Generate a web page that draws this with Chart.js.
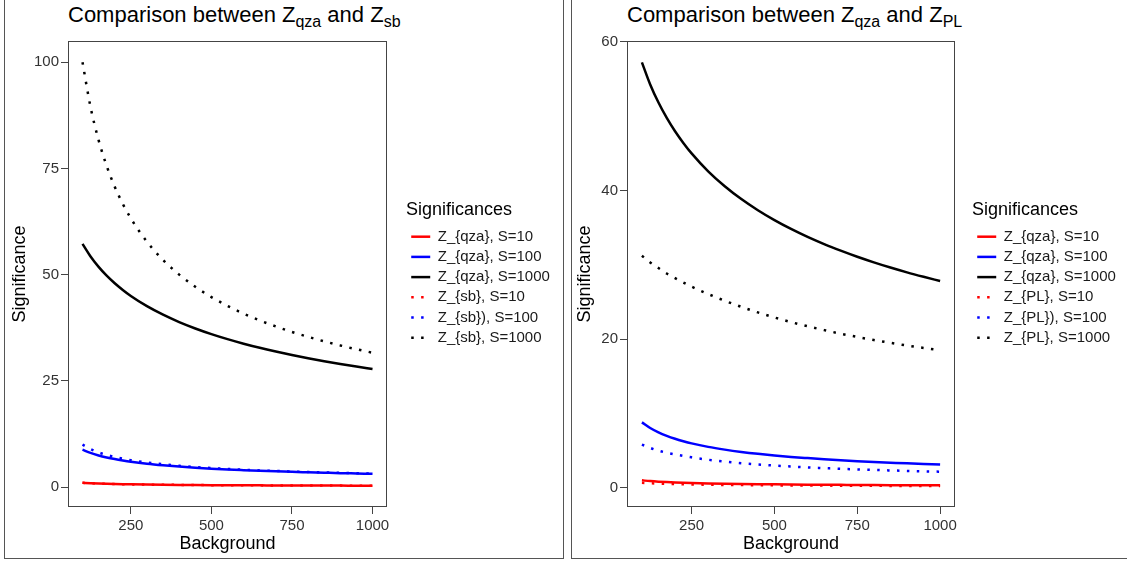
<!DOCTYPE html>
<html><head><meta charset="utf-8">
<script src="https://cdn.jsdelivr.net/npm/chart.js@4.4.0/dist/chart.umd.min.js"></script>
<style>
html,body{margin:0;padding:0;background:#fff;width:1127px;height:563px;overflow:hidden;font-family:"Liberation Sans",Arial,sans-serif;}
.panel{position:absolute;border:1px solid #555;box-sizing:border-box;}
.title{position:absolute;font-size:22px;line-height:1;color:#000;white-space:nowrap;}
.title sub{font-size:16px;vertical-align:-5px;line-height:0}
canvas{position:absolute}
</style></head><body>
<div class="panel" style="left:4px;top:-5px;width:560px;height:564px"></div>
<div class="panel" style="left:571px;top:-5px;width:600px;height:564px"></div>
<div class="title" style="left:68px;top:4px">Comparison between Z<sub>qza</sub> and Z<sub>sb</sub></div>
<div class="title" style="left:627px;top:4px">Comparison between Z<sub>qza</sub> and Z<sub>PL</sub></div>
<canvas id="c1" width="557" height="557" style="left:5px;top:0"></canvas>
<canvas id="c2" width="555" height="557" style="left:572px;top:0"></canvas>
<script>
const background = [100,125,150,175,200,225,250,300,350,400,450,500,550,600,650,700,750,800,850,900,950,1000];
const zqzaS10   = [0.984,0.883,0.807,0.749,0.701,0.662,0.628,0.574,0.532,0.498,0.470,0.446,0.425,0.407,0.391,0.377,0.364,0.353,0.342,0.333,0.324,0.316];
const zqzaS100  = [8.79,8.03,7.44,6.97,6.58,6.25,5.96,5.49,5.12,4.81,4.55,4.33,4.14,3.98,3.83,3.69,3.57,3.47,3.37,3.27,3.19,3.11];
const zqzaS1000 = [57.23,54.26,51.82,49.75,47.96,46.39,44.98,42.57,40.56,38.83,37.33,36.00,34.81,33.74,32.77,31.89,31.07,30.32,29.62,28.97,28.37,27.80];
const zsbS10    = [1.000,0.894,0.816,0.756,0.707,0.667,0.632,0.577,0.535,0.500,0.471,0.447,0.426,0.408,0.392,0.378,0.365,0.354,0.343,0.333,0.324,0.316];
const zsbS100   = [10.00,8.94,8.16,7.56,7.07,6.67,6.32,5.77,5.35,5.00,4.71,4.47,4.26,4.08,3.92,3.78,3.65,3.54,3.43,3.33,3.24,3.16];
const zsbS1000  = [100.0,89.44,81.65,75.59,70.71,66.67,63.25,57.74,53.45,50.00,47.14,44.72,42.64,40.82,39.22,37.80,36.51,35.36,34.30,33.33,32.44,31.62];
const zplS10    = [0.66,0.60,0.55,0.51,0.48,0.455,0.43,0.40,0.37,0.35,0.33,0.31,0.30,0.29,0.28,0.27,0.26,0.25,0.24,0.235,0.23,0.22];
const zplS100   = [5.80,5.35,4.98,4.70,4.48,4.27,4.08,3.76,3.51,3.30,3.13,2.98,2.85,2.73,2.63,2.54,2.46,2.39,2.32,2.26,2.20,2.15];
const zplS1000  = [31.2,30.30,29.55,28.81,28.2,27.60,27.05,26.05,25.15,24.33,23.58,22.9,22.28,21.72,21.2,20.72,20.28,19.87,19.49,19.13,18.8,18.5];
const xTicks = [250,500,750,1000];
const yTicksLeft = [0,25,50,75,100];
const yTicksRight = [0,20,40,60];

const FONT = "'Liberation Sans', Arial, Helvetica, sans-serif";
Chart.defaults.font.family = FONT;
const DOT = [2.5, 7.4];

function ds(label, arr, color, dotted) {
  return {
    label, data: background.map((b,i)=>({x:b, y:arr[i]})),
    borderColor: color, backgroundColor: color, borderWidth: 2.5,
    borderDash: dotted ? DOT : [], borderCapStyle: 'butt', borderJoinStyle: 'round',
    pointRadius: 0, pointHoverRadius: 0, fill: false, cubicInterpolationMode: 'monotone'
  };
}

const framePlugin = {
  id: 'frame',
  afterDatasetsDraw(chart) {
    const {ctx, chartArea: a} = chart;
    ctx.save();
    ctx.strokeStyle = '#444'; ctx.lineWidth = 1;
    const l = Math.round(a.left) + 0.5, t = Math.round(a.top) + 0.5;
    const r = Math.round(a.right) - 0.5, b = Math.round(a.bottom) - 0.5;
    ctx.strokeRect(l, t, r - l, b - t);
    ctx.restore();
  }
};

function make(id, datasets, yMin, yMax, yTicks, cfg) {
  return new Chart(document.getElementById(id), {
    type: 'line',
    data: { datasets },
    plugins: [framePlugin],
    options: {
      responsive: false, animation: false, devicePixelRatio: 1,
      layout: { padding: { top: 41, bottom: 0, left: 0, right: cfg.padRight } },
      plugins: {
        tooltip: { enabled: false },
        legend: {
          position: 'right', align: 'start', maxWidth: 170,
          title: { display: true, text: 'Significances', color: '#000', position: 'start',
                   font: { size: 18, family: FONT }, padding: { top: 160, bottom: 1.4 } },
          labels: {
            usePointStyle: true, pointStyleWidth: 19, padding: 5.2, color: '#1a1a1a',
            font: { size: 15, family: FONT },
            generateLabels: (chart) => chart.data.datasets.map((d, i) => ({
              text: d.label, fillStyle: d.borderColor, strokeStyle: d.borderColor,
              lineWidth: 2.5, lineDash: d.borderDash, lineCap: 'butt', pointStyle: 'line',
              hidden: false, datasetIndex: i, fontColor: '#1a1a1a'
            }))
          }
        }
      },
      scales: {
        x: {
          type: 'linear', min: 55, max: 1045,
          afterBuildTicks: s => { s.ticks = xTicks.map(v => ({ value: v })); },
          afterFit: s => { s.height = 50; },
          grid: { display: true, drawOnChartArea: false, drawTicks: true, tickLength: 7, tickColor: '#444', color: '#444' },
          border: { display: false },
          ticks: { font: { size: 15 }, color: '#333', padding: 2.5, maxRotation: 0, autoSkip: false, callback: v => String(v) },
          title: { display: true, text: 'Background', color: '#000', font: { size: 18 }, padding: { top: 0, bottom: 2 } }
        },
        y: {
          type: 'linear', min: yMin, max: yMax,
          afterBuildTicks: s => { s.ticks = yTicks.map(v => ({ value: v })); },
          afterFit: s => { s.width = cfg.leftW; },
          grid: { display: true, drawOnChartArea: false, drawTicks: true, tickLength: 7, tickColor: '#444', color: '#444' },
          border: { display: false },
          ticks: { font: { size: 15 }, color: '#333', padding: 2, autoSkip: false, callback: v => String(v) },
          title: { display: true, text: 'Significance', color: '#000', font: { size: 18 }, padding: { top: cfg.titlePad, bottom: 0 } }
        },
        gap: {
          type: 'linear', position: 'right', display: true,
          grid: { display: false, drawTicks: false }, border: { display: false },
          ticks: { display: false },
          afterFit: s => { s.width = cfg.gapW; }
        }
      }
    }
  });
}

make('c1', [
  ds('Z_{qza}, S=10', zqzaS10, '#ff0000', false),
  ds('Z_{qza}, S=100', zqzaS100, '#0000ff', false),
  ds('Z_{qza}, S=1000', zqzaS1000, '#000000', false),
  ds('Z_{sb}, S=10', zsbS10, '#ff0000', true),
  ds('Z_{sb}), S=100', zsbS100, '#0000ff', true),
  ds('Z_{sb}, S=1000', zsbS1000, '#000000', true)
], -4.7, 105, yTicksLeft, { padRight: 2.1, gapW: 19, leftW: 63, titlePad: 4 });

make('c2', [
  ds('Z_{qza}, S=10', zqzaS10, '#ff0000', false),
  ds('Z_{qza}, S=100', zqzaS100, '#0000ff', false),
  ds('Z_{qza}, S=1000', zqzaS1000, '#000000', false),
  ds('Z_{PL}, S=10', zplS10, '#ff0000', true),
  ds('Z_{PL}), S=100', zplS100, '#0000ff', true),
  ds('Z_{PL}, S=1000', zplS1000, '#000000', true)
], -2.6, 60.1, yTicksRight, { padRight: 1.1, gapW: 17, leftW: 55, titlePad: 2 });
</script>
</body></html>
